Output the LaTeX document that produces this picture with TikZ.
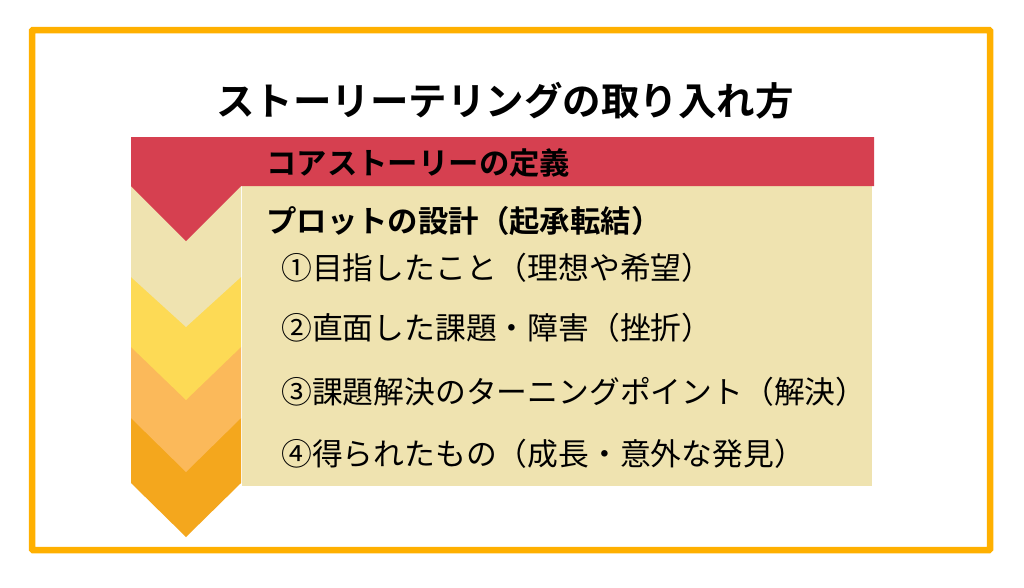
\documentclass[tikz,border=0pt]{standalone}
\usepackage{fontspec}
\newfontfamily\jp{Noto Sans CJK JP}
\newfontfamily\jpb{Noto Sans CJK JP Bold}
\definecolor{frameC}{RGB}{255,176,0}
\definecolor{redC}{RGB}{214,64,80}
\definecolor{beigeC}{RGB}{239,227,176}
\definecolor{yellowC}{RGB}{253,218,85}
\definecolor{lorangeC}{RGB}{251,185,90}
\definecolor{dorangeC}{RGB}{244,167,29}
\tikzset{
  heading/.style={anchor=west, inner sep=0pt, font=\jpb\fontsize{30.4}{30.4}\selectfont},
  item/.style={anchor=west, inner sep=0pt, font=\jp\fontsize{30.8}{30.8}\selectfont},
  titletext/.style={inner sep=0pt, font=\jpb\fontsize{38.5}{38.5}\selectfont},
}
\begin{document}
\begin{tikzpicture}[x=1pt,y=-1pt]
\useasboundingbox (0,0) rectangle (1024,587);
\fill[white] (0,0) rectangle (1024,587);
% frame
\draw[line width=6.5pt, frameC, rounded corners=1pt] (32,30) rectangle (990,550);
% chevrons, bottom to top
\fill[dorangeC] (131,418) -- (241,418) -- (241,483) -- (186,537) -- (131,483) -- cycle;
\fill[lorangeC] (131,347) -- (241,347) -- (241,418) -- (186,472) -- (131,418) -- cycle;
\fill[yellowC] (131,277) -- (241,277) -- (241,347) -- (186,400) -- (131,347) -- cycle;
\fill[beigeC] (131,186) -- (241,186) -- (241,277) -- (186,327) -- (131,277) -- cycle;
% beige box
\fill[beigeC] (242,186) rectangle (872,486);
% red band and chevron
\fill[redC] (131,137) -- (874,137) -- (874,186) -- (241,186) -- (186,241) -- (131,186) -- cycle;
% texts
\node[titletext] (title) at (505,101) {ストーリーテリングの取り入れ方};
\node[heading] (core) at (266,163) {コアストーリーの定義};
\node[heading] (plot) at (266,221) {プロットの設計（起承転結）};
\node[item] (i1) at (281,268) {①目指したこと（理想や希望）};
\node[item] (i2) at (281,328) {②直面した課題・障害（挫折）};
\node[item] (i3) at (281,392) {③課題解決のターニングポイント（解決）};
\node[item] (i4) at (281,454) {④得られたもの（成長・意外な発見）};
\end{tikzpicture}
\end{document}
